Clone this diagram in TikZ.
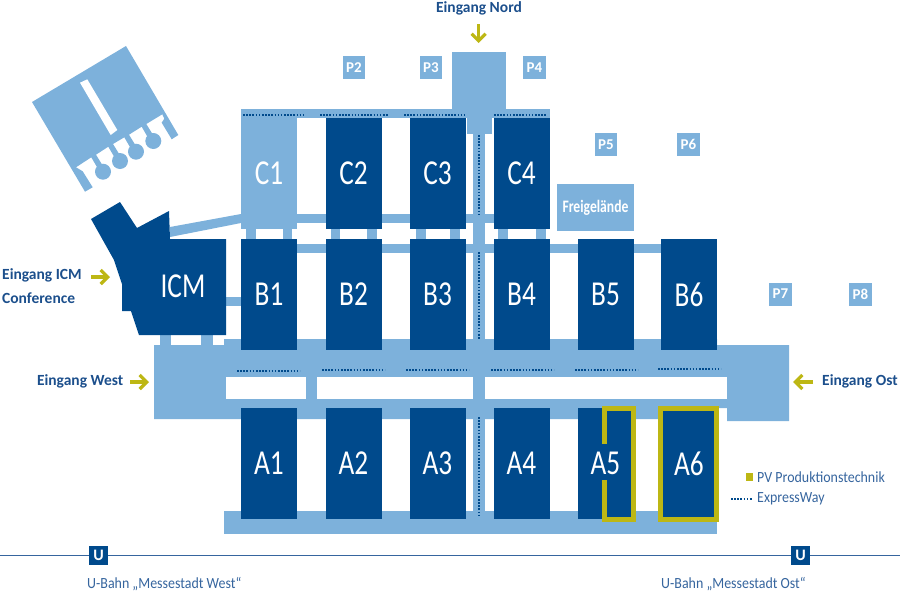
\documentclass[tikz,border=0pt]{standalone}
\usepackage{fontspec}
\usetikzlibrary{arrows.meta}
\setmainfont{Carlito}
\newfontfamily\hallfont[FakeStretch=0.78]{Carlito}
\newfontfamily\legendfont[FakeStretch=0.9]{Carlito}
\definecolor{halldark}{HTML}{004A8C}
\definecolor{wegblue}{HTML}{7DB1DB}
\definecolor{pvgold}{HTML}{BDB714}
\definecolor{textblue}{HTML}{1C4F8C}
\definecolor{legendblue}{HTML}{36659E}
\tikzset{
	hall/.style = {fill=halldark, text=white, inner sep=0, outer sep=0, minimum width=56, minimum height=111, font=\hallfont\fontsize{35}{35}\selectfont},
	hallc/.style = {hall, fill=wegblue},
	park/.style = {fill=wegblue, text=white, inner sep=0, outer sep=0, minimum width=22.5, minimum height=23, font=\bfseries\fontsize{15}{15}\selectfont},
	ubox/.style = {fill=halldark, text=white, inner sep=0, outer sep=0, minimum width=19, minimum height=19, font=\bfseries\fontsize{16}{16}\selectfont},
	weg/.style = {fill=wegblue},
	express/.style = {draw=halldark, line width=1.5pt, dash pattern=on 1.6pt off 1.55pt},
	entry/.style = {text=textblue, inner sep=0, font=\bfseries\fontsize{15.5}{15.5}\selectfont},
	legend/.style = {text=legendblue, inner sep=0, anchor=west, font=\legendfont\fontsize{15.5}{15.5}\selectfont},
	goldarrow/.style = {draw=pvgold, line width=3.2pt, -{Straight Barb[length=7pt, width=14pt, line width=3.2pt]}},
	pvframe/.style = {draw=pvgold, line width=5pt},
}
\begin{document}
\begin{tikzpicture}[x=1pt, y=-1pt]
	\useasboundingbox (0,0) rectangle (900,592);

	% Messegebaeude oben links
	\fill[weg] (126,46) -- (178.3,135) -- (171.7,139.3) -- (161.7,122.7) -- (164.3,118.7) -- (162.3,114.3) -- (146.3,124) -- (153.2,135.2) -- (148.3,138.2)
		-- (141.7,126.7) -- (129,134.7) -- (135.9,145.9) -- (131,148.8) -- (124.3,137.3) -- (113,144) -- (119.9,155.2) -- (115,158.2)
		-- (108.3,146.7) -- (96,154.7) -- (102.9,165.9) -- (98,168.8) -- (91.3,157.3) -- (76,167.3) -- (82.7,171.3) -- (92.7,187.3) -- (85,191.7) -- (32,102) -- cycle;
	\fill[white] (80,82.7) -- (87.3,79.3) -- (117.3,130) -- (110.7,135) -- cycle;
	\fill[weg] (103,171.7) circle (8);
	\fill[weg] (120,161) circle (8);
	\fill[weg] (136,151.7) circle (8);
	\fill[weg] (153.3,141) circle (8);

	% Wege und Verbindungen
	\fill[weg] (154,345) -- (224,345) -- (224,339) -- (717,339) -- (717,345) -- (789,345) -- (789,421) -- (727,421) -- (727,408) -- (717,408) -- (717,419) -- (154,419) -- cycle;
	\fill[white] (226,377) rectangle (306,399);
	\fill[white] (317,377) rectangle (473,399);
	\fill[white] (485,377) rectangle (727,399);
	\fill[weg] (224,511) rectangle (717,534);
	\fill[weg] (241,109) rectangle (550,118);
	\fill[weg] (452,52) rectangle (506,109);
	\fill[weg] (467,109) rectangle (492,134);
	\fill[weg] (473,134) rectangle (485,340);
	\fill[weg] (473,419) rectangle (485,511);
	\fill[weg] (297,214) rectangle (494,223);
	\fill[weg] (297,244) rectangle (661,253);
	\fill[weg] (170,227) -- (241,214) -- (241,223) -- (170,237) -- cycle;
	\fill[weg] (226,297) rectangle (241,306);
	\fill[weg] (160,335) rectangle (171,345);
	\fill[weg] (201,335) rectangle (213,345);
	\fill[weg] (246,229) rectangle (256,239);
	\fill[weg] (283,229) rectangle (292,239);
	\fill[weg] (331,229) rectangle (340,239);
	\fill[weg] (367,229) rectangle (377,239);
	\fill[weg] (416,229) rectangle (426,239);
	\fill[weg] (450,229) rectangle (460,239);
	\fill[weg] (498,229) rectangle (508,239);
	\fill[weg] (536,229) rectangle (546,239);

	% Hallen
	\node[hallc] (C1) at (269,173.5) {C1};
	\node[hall] (C2) at (353.5,173.5) {C2};
	\node[hall] (C3) at (437.5,173.5) {C3};
	\node[hall] (C4) at (521.5,173.5) {C4};
	\node[hall] (B1) at (269,294.5) {B1};
	\node[hall] (B2) at (353.5,294.5) {B2};
	\node[hall] (B3) at (437.5,294.5) {B3};
	\node[hall] (B4) at (521.5,294.5) {B4};
	\node[hall] (B5) at (605.5,294.5) {B5};
	\node[hall] (B6) at (689,294.5) {B6};
	\node[hall] (A1) at (269,463.5) {A1};
	\node[hall] (A2) at (353.5,463.5) {A2};
	\node[hall] (A3) at (437.5,463.5) {A3};
	\node[hall] (A4) at (521.5,463.5) {A4};
	\node[hall] (A5) at (605.5,463.5) {A5};
	\node[hall] (A6) at (689,463.5) {A6};

	% ICM
	\fill[halldark] (91,219) -- (120,202) -- (137,228) -- (169,211) -- (170,239) -- (226,239) -- (226,335) -- (139,335) -- (131,311) -- (122,311) -- (122,284) -- (114,260) -- cycle;
	\node[text=white, inner sep=0, font=\hallfont\fontsize{35}{35}\selectfont] (ICM) at (183,286) {ICM};

	% Parkplaetze
	\node[park] (P2) at (354,67.5) {P2};
	\node[park] (P3) at (431,67.5) {P3};
	\node[park] (P4) at (534.5,67.5) {P4};
	\node[park] (P5) at (606,144.5) {P5};
	\node[park] (P6) at (688.5,144.5) {P6};
	\node[park] (P7) at (780.5,294) {P7};
	\node[park] (P8) at (860.5,294) {P8};
	\node[park, minimum width=77, minimum height=47, font=\bfseries\hallfont\fontsize{17.5}{17.5}\selectfont] (frei) at (595.5,207.5) {Freigelände};

	% ExpressWay
	\draw[express] (243,115) -- (303,115);
	\draw[express] (320,115) -- (389,115);
	\draw[express] (404,115) -- (466,115);
	\draw[express] (494,115) -- (547,115);
	\draw[express] (479,135) -- (479,215);
	\draw[express] (479,252) -- (479,340);
	\draw[express] (479,417) -- (479,517);
	\draw[express] (237,371) -- (300,371);
	\draw[express] (322,370) -- (385,370);
	\draw[express] (406,370) -- (469,370);
	\draw[express] (491,370) -- (554,370);
	\draw[express] (575,370) -- (638,370);
	\draw[express] (658,369) -- (721,369);

	% PV Produktionstechnik
	\draw[pvframe] (604.5,444) -- (604.5,408.5) -- (633.5,408.5) -- (633.5,519.5) -- (604.5,519.5) -- (604.5,480);
	\draw[pvframe] (660.5,408.5) rectangle (716.5,519.5);

	% Eingaenge
	\node[entry] (nord) at (479,8) {Eingang Nord};
	\node[entry, anchor=west] (icmtext) at (2,275) {Eingang ICM};
	\node[entry, anchor=west] (conf) at (2,298) {Conference};
	\node[entry, anchor=east] (west) at (123.5,381) {Eingang West};
	\node[entry, anchor=west] (ost) at (822,381) {Eingang Ost};
	\coordinate (nordA) at (478.7,24);
	\coordinate (nordB) at (478.7,43);
	\coordinate (icmA) at (91,277);
	\coordinate (icmB) at (110,277);
	\coordinate (westA) at (130,382);
	\coordinate (westB) at (149,382);
	\coordinate (ostA) at (813,382);
	\coordinate (ostB) at (793,382);
	\draw[goldarrow] (nordA) -- (nordB);
	\draw[goldarrow] (icmA) -- (icmB);
	\draw[goldarrow] (westA) -- (westB);
	\draw[goldarrow] (ostA) -- (ostB);

	% Legende
	\fill[pvgold] (746,473) rectangle (753,481);
	\node[legend] (pvtext) at (757,477) {PV Produktionstechnik};
	\draw[express] (731,499) -- (752,499);
	\node[legend] (extext) at (757,499) {ExpressWay};

	% U-Bahn
	\coordinate (bahnL) at (0,555.5);
	\coordinate (bahnR) at (900,555.5);
	\node[ubox] (uwest) at (98.5,555.5) {U};
	\node[ubox] (uost) at (800.5,555.5) {U};
	\draw[legendblue, line width=1.3pt] (bahnL) -- (uwest) -- (uost) -- (bahnR);
	\node[legend] (uwesttext) at (87,584) {U-Bahn „Messestadt West“};
	\node[legend] (uosttext) at (661,584) {U-Bahn „Messestadt Ost“};
\end{tikzpicture}
\end{document}
